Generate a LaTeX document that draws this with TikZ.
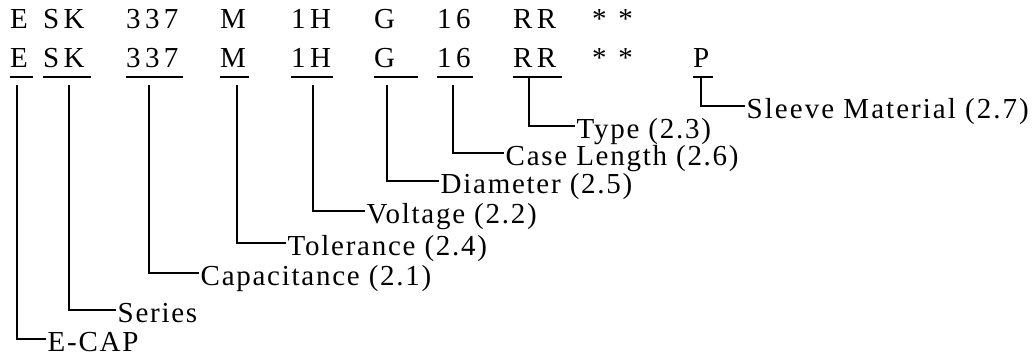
\documentclass[tikz,border=0pt]{standalone}
\usepackage{fontspec}
\setmainfont{Liberation Serif}[LetterSpace=6]
\newfontfamily\codefont{Liberation Serif}[LetterSpace=15]
\newfontfamily\widefont{Liberation Serif}[LetterSpace=7]
\usetikzlibrary{positioning}
\tikzset{
  code/.style={anchor=base west,inner sep=0pt,text height=20pt,text depth=10pt,align=left,font=\codefont\fontsize{29}{34}\selectfont},
  lab/.style={anchor=west,inner xsep=1.5pt,inner ysep=0pt,text height=24pt,text depth=0pt,font=\fontsize{29}{34}\selectfont},
  uline/.style={line width=1.6pt},
  leader/.style={line width=1.9pt},
}
\begin{document}
\begin{tikzpicture}[x=1pt,y=-1pt]
  \useasboundingbox (0,0) rectangle (1033,356);
  % first line of the code
  \node[code] (aE) at (10,28) {E};
  \node[code] (aSK) at (43,28) {SK};
  \node[code] (a337) at (126,28) {337};
  \node[code] (aM) at (220,28) {M};
  \node[code] (a1H) at (291,28) {1H};
  \node[code] (aG) at (374,28) {G};
  \node[code] (a16) at (437,28) {16};
  \node[code] (aRR) at (513,28) {RR};
  \node[code] (aAst) at (592,28) {* *};
  % second line, underlined
  \node[code,text width=23pt] (bE) at (10,67) {E};
  \node[code,text width=48pt] (bSK) at (43,67) {SK};
  \node[code,text width=57pt] (b337) at (126,67) {337};
  \node[code,text width=29pt] (bM) at (220,67) {M};
  \node[code,text width=42pt] (b1H) at (291,67) {1H};
  \node[code,text width=44pt] (bG) at (374,67) {G};
  \node[code,text width=36pt] (b16) at (437,67) {16};
  \node[code,text width=49pt] (bRR) at (513,67) {RR};
  \node[code] (bAst) at (592,67) {* *};
  \node[code,text width=20pt] (bP) at (693,67) {P};
  \foreach \n in {bE,bSK,b337,bM,b1H,bG,b16,bRR,bP}
    \draw[uline] (\n.south west) -- (\n.south east);
  % labels
  \node[lab] (lEcap) at (46,339) {E-CAP};
  \node[lab] (lSeries) at (116,310) {Series};
  \node[lab] (lCap) at (199,273) {Capacitance (2.1)};
  \node[lab] (lTol) at (286,243) {Tolerance (2.4)};
  \node[lab] (lVolt) at (365,211) {Voltage (2.2)};
  \node[lab] (lDiam) at (439,181) {Diameter (2.5)};
  \node[lab] (lLen) at (504,153) {Case Length (2.6)};
  \node[lab] (lType) at (575,126) {Type (2.3)};
  \node[lab,font=\widefont\fontsize{29}{34}\selectfont] (lSleeve) at (745,106) {Sleeve Material (2.7)};
  % leaders
  \draw[leader] ([shift={(7,8)}]bE.south west) |- (lEcap.west);
  \draw[leader] ([shift={(26,8)}]bSK.south west) |- (lSeries.west);
  \draw[leader] ([shift={(23,8)}]b337.south west) |- (lCap.west);
  \draw[leader] ([shift={(17,8)}]bM.south west) |- (lTol.west);
  \draw[leader] ([shift={(22,8)}]b1H.south west) |- (lVolt.west);
  \draw[leader] ([shift={(13,8)}]bG.south west) |- (lDiam.west);
  \draw[leader] ([shift={(16,8)}]b16.south west) |- (lLen.west);
  \draw[leader] ([shift={(16,0)}]bRR.south west) |- (lType.west);
  \draw[leader] ([shift={(8,0)}]bP.south west) |- (lSleeve.west);
\end{tikzpicture}
\end{document}
